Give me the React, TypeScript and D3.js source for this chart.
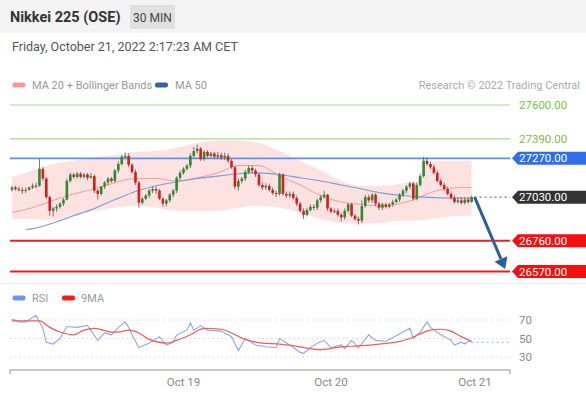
import React from "react";
import * as d3 from "d3";

// 30 min candles, Oct 18 - Oct 21 2022
const opens = [
  27075, 27090, 27080, 27075, 27070, 27075, 27090, 27100, 27100, 27205,
  27145, 27030, 26945, 26960, 26970, 26990, 27015, 27130, 27170, 27155,
  27175, 27155, 27170, 27150, 27160, 27070, 27050, 27095, 27120, 27145,
  27130, 27195, 27235, 27280, 27285, 27230, 27185, 27120, 26995, 27020,
  27040, 27070, 27080, 27070, 27020, 26990, 27010, 27045, 27070, 27150,
  27180, 27205, 27225, 27285, 27315, 27330, 27265, 27310, 27285, 27300,
  27280, 27290, 27275, 27285, 27255, 27215, 27095, 27130, 27145, 27185,
  27210, 27195, 27170, 27105, 27090, 27100, 27075, 27055, 27050, 27170,
  27050, 27040, 27050, 27025, 26990, 26945, 26920, 26950, 26970, 26965,
  27010, 27030, 27045, 26960, 26940, 26945, 26920, 26905, 26945, 26985,
  26915, 26895, 26885, 26975, 27030, 27010, 27045, 26990, 26965, 26985,
  26970, 26985, 27000, 27015, 27045, 27070, 27095, 27115, 27020, 27105,
  27160, 27255, 27235, 27215, 27180, 27130, 27105, 27080, 27050, 27025,
  27000, 27010, 26995, 27015, 27000,
];
const closes = [
  27090, 27080, 27075, 27070, 27075, 27090, 27100, 27095, 27205, 27145,
  27030, 26945, 26960, 26970, 26990, 27015, 27130, 27170, 27155, 27175,
  27155, 27170, 27150, 27160, 27070, 27050, 27095, 27120, 27145, 27130,
  27195, 27235, 27280, 27285, 27230, 27185, 27120, 26995, 27020, 27040,
  27070, 27080, 27070, 27020, 26990, 27010, 27045, 27070, 27150, 27180,
  27205, 27225, 27285, 27315, 27330, 27265, 27310, 27285, 27300, 27280,
  27290, 27275, 27285, 27255, 27215, 27095, 27130, 27145, 27185, 27210,
  27195, 27170, 27105, 27090, 27100, 27075, 27055, 27050, 27170, 27050,
  27040, 27050, 27025, 26990, 26945, 26920, 26950, 26970, 26965, 27010,
  27030, 27045, 26960, 26940, 26945, 26920, 26905, 26945, 26985, 26915,
  26895, 26885, 26975, 27030, 27010, 27045, 26990, 26965, 26985, 26970,
  26985, 27000, 27015, 27045, 27070, 27095, 27115, 27020, 27105, 27160,
  27255, 27235, 27215, 27180, 27130, 27105, 27080, 27050, 27025, 27000,
  27010, 26995, 27015, 27000, 27030,
];
const highs = [
  27100, 27100, 27095, 27090, 27090, 27095, 27115, 27120, 27265, 27215,
  27155, 27040, 26970, 26985, 27000, 27025, 27145, 27180, 27180, 27185,
  27185, 27180, 27180, 27180, 27170, 27080, 27100, 27130, 27155, 27155,
  27205, 27250, 27290, 27305, 27300, 27240, 27200, 27130, 27030, 27050,
  27080, 27095, 27095, 27080, 27030, 27020, 27055, 27080, 27160, 27195,
  27215, 27235, 27300, 27340, 27355, 27340, 27320, 27320, 27310, 27310,
  27310, 27305, 27305, 27300, 27265, 27225, 27145, 27155, 27200, 27225,
  27225, 27205, 27180, 27120, 27115, 27115, 27090, 27070, 27180, 27175,
  27065, 27065, 27065, 27040, 27000, 26960, 26965, 26985, 26985, 27020,
  27045, 27070, 27050, 26970, 26960, 26960, 26935, 26960, 26995, 26995,
  26925, 26910, 27010, 27045, 27045, 27055, 27055, 27000, 26995, 26995,
  26995, 27015, 27025, 27055, 27080, 27105, 27125, 27125, 27120, 27175,
  27280, 27275, 27250, 27230, 27195, 27145, 27120, 27095, 27065, 27040,
  27030, 27030, 27030, 27030, 27040,
];
const lows = [
  27065, 27070, 27065, 27050, 27055, 27070, 27080, 27085, 27095, 27130,
  27020, 26915, 26910, 26940, 26960, 26975, 27010, 27120, 27145, 27145,
  27145, 27145, 27135, 27145, 27055, 27015, 27040, 27080, 27105, 27120,
  27120, 27180, 27225, 27265, 27215, 27175, 27105, 26965, 26985, 27010,
  27025, 27055, 27050, 27010, 26970, 26975, 26995, 27030, 27055, 27135,
  27170, 27195, 27210, 27275, 27300, 27255, 27255, 27275, 27275, 27265,
  27265, 27260, 27260, 27240, 27205, 27080, 27070, 27115, 27130, 27175,
  27180, 27155, 27095, 27075, 27075, 27065, 27045, 27030, 27040, 27040,
  27025, 27025, 27015, 26975, 26935, 26895, 26910, 26940, 26950, 26950,
  26995, 27020, 26945, 26930, 26930, 26910, 26880, 26890, 26935, 26905,
  26885, 26860, 26870, 26965, 26995, 26995, 26975, 26950, 26950, 26960,
  26960, 26970, 26990, 27000, 27030, 27055, 27080, 27010, 27010, 27095,
  27150, 27225, 27205, 27170, 27120, 27095, 27070, 27040, 27015, 26990,
  26990, 26985, 26985, 26990, 26995,
];

// indicators, read at sample candles
const bandIdx = [0, 6, 12, 18, 24, 30, 36, 42, 48, 54, 60, 66, 72, 78, 84, 90, 96, 102, 108, 114, 118, 121, 126, 132, 134];
const bandUpper = [27155, 27195, 27235, 27255, 27275, 27290, 27310, 27315, 27335, 27365, 27380, 27380, 27365, 27315, 27255, 27195, 27130, 27100, 27100, 27115, 27125, 27240, 27255, 27255, 27255];
const bandLower = [26895, 26895, 26885, 26915, 26945, 26965, 26975, 26965, 26945, 26945, 26945, 26965, 26975, 26965, 26935, 26895, 26870, 26865, 26870, 26885, 26885, 26890, 26905, 26915, 26915];
const ma20 = [26935, 26965, 27010, 27050, 27080, 27120, 27145, 27145, 27130, 27150, 27180, 27225, 27225, 27160, 27105, 27040, 27000, 26985, 26975, 26995, 27020, 27050, 27080, 27090, 27090];
const ma50Idx = [4, 6, 12, 18, 24, 30, 36, 42, 48, 54, 60, 66, 72, 78, 84, 90, 96, 102, 108, 114, 120, 126, 134];
const ma50 = [26830, 26835, 26870, 26915, 26960, 27015, 27065, 27100, 27125, 27145, 27160, 27175, 27180, 27170, 27150, 27130, 27105, 27080, 27055, 27040, 27030, 27025, 27025];

const rsiIdx = [0, 2, 4, 7, 9, 10, 12, 14, 16, 19, 22, 25, 27, 29, 31, 33, 34, 35, 37, 40, 43, 45, 47, 48, 51, 52, 53, 55, 57, 61, 64, 66, 68, 71, 74, 77, 78, 81, 84, 85, 87, 89, 91, 93, 96, 97, 99, 101, 104, 106, 109, 112, 114, 116, 117, 119, 121, 122, 125, 128, 129, 131, 132, 133, 134];
const rsi = [71, 68, 68, 75, 61, 46, 44, 50, 63, 62, 64, 48, 56, 54, 62, 68, 62, 54, 40, 45, 52, 43, 46, 54, 59, 67, 59, 64, 59, 58, 52, 37, 50, 43, 41, 40, 50, 43, 35, 34, 40, 45, 48, 40, 43, 39, 48, 40, 54, 48, 47, 53, 57, 61, 50, 57, 68, 62, 54, 48, 43, 46, 44, 47, 46];
const rsiMaIdx = [0, 5, 8, 11, 14, 18, 21, 24, 29, 31, 34, 37, 40, 45, 48, 52, 56, 61, 64, 68, 73, 78, 84, 87, 90, 96, 101, 107, 112, 116, 119, 122, 125, 128, 131, 134];
const rsiMa = [69, 69, 69, 62, 57, 54, 59, 61, 57, 57, 59, 56, 49, 45, 48, 54, 61, 60, 56, 49, 45, 44, 41, 39, 38, 41, 42, 44, 46, 50, 55, 59, 60, 58, 52, 47];
const rsiTicks = [70, 50, 30];

const resistances = [27600, 27390];
const pivot = 27270;
const lastPrice = 27030;
const supports = [26760, 26570];
const target = { idx: 143.8, price: 26585 };

const dayIdx = [50, 93, 135];
const dayLabels = ["Oct 19", "Oct 20", "Oct 21"];

const FONT = "Roboto, Arial, sans-serif";

export default function App() {
  const W = 586;
  const H = 397;
  const x = d3.scaleLinear().domain([0, 145]).range([12, 509.35]);
  const y = d3.scaleLinear().domain([26570, 27600]).range([271.5, 105]);
  const yR = d3.scaleLinear().domain([30, 70]).range([357, 320]);
  const lineL = 10;
  const lineR = 510;
  const bw = 2.6;

  const band = d3.area<number>()
    .x((d) => x(bandIdx[d]))
    .y0((d) => y(bandLower[d]))
    .y1((d) => y(bandUpper[d]))
    .curve(d3.curveMonotoneX);
  const ma20Line = d3.line<number>()
    .x((d) => x(bandIdx[d]))
    .y((d) => y(ma20[d]))
    .curve(d3.curveMonotoneX);
  const ma50Line = d3.line<number>()
    .x((d) => x(ma50Idx[d]))
    .y((d) => y(ma50[d]))
    .curve(d3.curveMonotoneX);
  const rsiLine = d3.line<number>()
    .x((d) => x(rsiIdx[d]))
    .y((d) => yR(rsi[d]));
  const rsiMaLine = d3.line<number>()
    .x((d) => x(rsiMaIdx[d]))
    .y((d) => yR(rsiMa[d]))
    .curve(d3.curveMonotoneX);

  const tag = (cy: number) =>
    `M512,${cy} L518,${cy - 6.5} L586,${cy - 6.5} L586,${cy + 6.5} L518,${cy + 6.5} Z`;

  const last = closes.length - 1;
  const ax0 = x(last) + 3;
  const ay0 = y(lastPrice);
  const ax1 = x(target.idx);
  const ay1 = y(target.price);
  const ang = Math.atan2(ay1 - ay0, ax1 - ax0);
  const headLen = 11;
  const headW = 7;
  const bx = ax1 - headLen * Math.cos(ang);
  const by = ay1 - headLen * Math.sin(ang);
  const head = `M${ax1},${ay1} L${bx + headW * Math.sin(ang)},${by - headW * Math.cos(ang)} L${bx - headW * Math.sin(ang)},${by + headW * Math.cos(ang)} Z`;

  const lastR = rsi[rsi.length - 1];

  return (
    <svg width={W} height={H} style={{ position: "absolute", left: 0, top: 0, background: "#fff" }} fontFamily={FONT}>
      {/* header */}
      <rect x={0} y={0} width={W} height={33} fill="#f3f3f3" />
      <text x={10} y={22} fontSize={14.5} fontWeight={700} fill="#333">Nikkei 225 (OSE)</text>
      <rect x={130} y={5} width={45} height={24} fill="#e0e0e0" />
      <text x={152.5} y={21.5} fontSize={12} fill="#444" textAnchor="middle">30 MIN</text>
      <text x={12} y={51} fontSize={12.5} fill="#555">Friday, October 21, 2022 2:17:23 AM CET</text>

      {/* legend */}
      <rect x={12.5} y={82.5} width={13} height={5} rx={2} fill="#f59a9a" />
      <text x={32} y={89} fontSize={11} fill="#999">MA 20 + Bollinger Bands</text>
      <rect x={155} y={82.5} width={13} height={5} rx={2} fill="#3b5f9e" />
      <text x={175} y={89} fontSize={11} fill="#999">MA 50</text>
      <text x={580} y={89} fontSize={11} fill="#aaa" textAnchor="end">Research © 2022 Trading Central</text>

      {/* bollinger band */}
      <path d={band(d3.range(bandIdx.length)) || ""} fill="#fde2e2" />

      {/* resistance levels */}
      {resistances.map((p) => (
        <g key={p}>
          <line x1={lineL} x2={lineR} y1={y(p)} y2={y(p)} stroke="#a8d889" strokeWidth={1.2} />
          <text x={519} y={y(p) + 4} fontSize={11.5} fill="#78bf45">{p.toFixed(2)}</text>
        </g>
      ))}

      {/* pivot */}
      <line x1={lineL} x2={lineR} y1={y(pivot)} y2={y(pivot)} stroke="#5f8fec" strokeWidth={1.8} />
      <path d={tag(y(pivot))} fill="#2f6fe8" />
      <text x={519} y={y(pivot) + 4} fontSize={11.5} fill="#fff">{pivot.toFixed(2)}</text>

      {/* supports */}
      {supports.map((p) => (
        <g key={p}>
          <line x1={lineL} x2={lineR} y1={y(p)} y2={y(p)} stroke="#f01c1c" strokeWidth={2} />
          <path d={tag(y(p))} fill="#f51010" />
          <text x={519} y={y(p) + 4} fontSize={11.5} fill="#fff">{p.toFixed(2)}</text>
        </g>
      ))}

      {/* moving averages */}
      <path d={ma20Line(d3.range(bandIdx.length)) || ""} fill="none" stroke="#f79a9a" strokeWidth={1} />
      <path d={ma50Line(d3.range(ma50Idx.length)) || ""} fill="none" stroke="#7b9bd4" strokeWidth={1.1} />

      {/* candles */}
      {closes.map((c, i) => {
        const o = opens[i];
        const up = c >= o;
        const top = y(Math.max(o, c));
        const h = Math.max(1, Math.abs(y(o) - y(c)));
        return (
          <g key={i}>
            <line x1={x(i)} x2={x(i)} y1={y(highs[i])} y2={y(lows[i])} stroke="#555" strokeWidth={0.8} />
            <rect x={x(i) - bw / 2} y={top} width={bw} height={h} fill={up ? "#2e8a2e" : "#d41e1e"} />
          </g>
        );
      })}

      {/* last price */}
      <line x1={x(last) + 3} x2={lineR} y1={y(lastPrice)} y2={y(lastPrice)} stroke="#555" strokeWidth={1} strokeDasharray="2,3" />
      <path d={tag(y(lastPrice))} fill="#333" />
      <text x={519} y={y(lastPrice) + 4} fontSize={11.5} fill="#fff">{lastPrice.toFixed(2)}</text>

      {/* forecast arrow */}
      <line x1={ax0} y1={ay0} x2={bx} y2={by} stroke="#2c5d9f" strokeWidth={3} />
      <path d={head} fill="#2c5d9f" />

      {/* separator */}
      <line x1={0} x2={W} y1={283.5} y2={283.5} stroke="#ececec" strokeWidth={1} />

      {/* RSI panel */}
      <rect x={12.5} y={295.5} width={13} height={5} rx={2} fill="#6f95ee" />
      <text x={32} y={302} fontSize={11} fill="#999">RSI</text>
      <rect x={62} y={295.5} width={13} height={5} rx={2} fill="#ff1a1a" />
      <text x={81} y={302} fontSize={11} fill="#999">9MA</text>
      {rsiTicks.map((t) => (
        <g key={t}>
          <line x1={lineL} x2={lineR} y1={yR(t)} y2={yR(t)} stroke="#d5d5d5" strokeWidth={1} strokeDasharray="1.5,3" />
          <text x={519} y={yR(t) + 4} fontSize={11.5} fill="#888">{t}</text>
        </g>
      ))}
      <line x1={x(last)} x2={lineR} y1={yR(lastR)} y2={yR(lastR)} stroke="#8eaaf0" strokeWidth={1} strokeDasharray="2,3" />
      <path d={rsiLine(d3.range(rsiIdx.length)) || ""} fill="none" stroke="#8aa8f0" strokeWidth={1.1} />
      <path d={rsiMaLine(d3.range(rsiMaIdx.length)) || ""} fill="none" stroke="#f25a5a" strokeWidth={1.2} />

      {/* time axis */}
      <path d={`M${lineL},374 V370 H${lineR} V374`} fill="none" stroke="#b5b5b5" strokeWidth={1.5} />
      {dayIdx.map((d, k) => (
        <text key={d} x={x(d)} y={386} fontSize={11.5} fill="#888" textAnchor="middle">{dayLabels[k]}</text>
      ))}
    </svg>
  );
}
